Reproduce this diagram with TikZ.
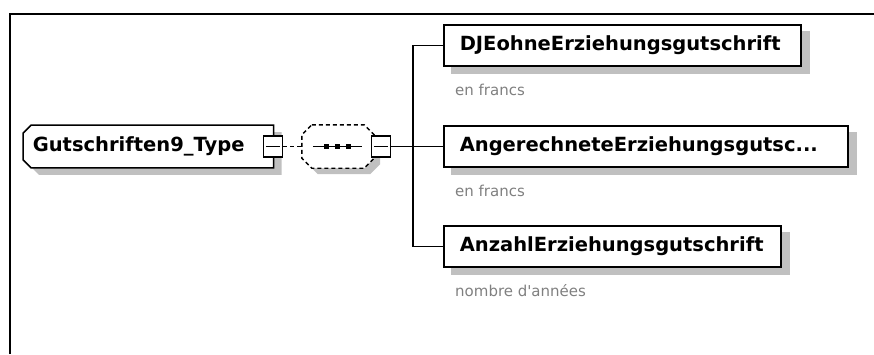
\documentclass[tikz,border=0pt]{standalone}
\usepackage{fontspec}
\setmainfont{DejaVu Sans}
\definecolor{shadowgray}{RGB}{192,192,192}
\definecolor{labelgray}{RGB}{128,128,128}
\pgfdeclarelayer{bg}
\pgfsetlayers{bg,main}
\begin{document}
\begin{tikzpicture}[x=1pt,y=-1pt,
  elem/.style={draw=black, line width=1.6pt, fill=white, minimum height=41pt, inner xsep=16pt, inner ysep=0pt, anchor=west, font=\bfseries\fontsize{19.5}{22}\selectfont, align=left},
  note/.style={anchor=base west, inner sep=0pt, text=labelgray, font=\fontsize{15}{18}\selectfont},
  minusbox/.style={draw=black, line width=1.5pt, fill=white, minimum width=19pt, minimum height=21pt, inner sep=0pt},
  conn/.style={line width=1.4pt, black},
  shadowfill/.style={fill=shadowgray, draw=none},
  outline/.style={draw=black, line width=1.5pt, fill=white},
  seqdash/.style={draw=black, line width=1.4pt, fill=white, dash pattern=on 4pt off 3pt},
  dot/.style={fill=black, minimum size=5pt, inner sep=0pt}
]
\useasboundingbox (0,0) rectangle (874,354);
\draw[line width=1.8pt] (10,354) -- (10,14) -- (874,14);

% root element
\node[elem, draw=none, fill=none, inner xsep=9pt, text width=231pt] (root) at (23,146.5) {Gutschriften9\_Type};
\begin{pgfonlayer}{bg}
  \fill[shadowfill] ([shift={(8pt,-7pt)},xshift=8pt]root.north west) -- ([shift={(8pt,-7pt)}]root.north east) -- ([shift={(8pt,-7pt)}]root.south east) -- ([shift={(8pt,-7pt)},xshift=8pt]root.south west) -- ([shift={(8pt,-7pt)},yshift=8pt]root.south west) -- ([shift={(8pt,-7pt)},yshift=-8pt]root.north west) -- cycle;
  \path[outline] ([xshift=8pt]root.north west) -- (root.north east) -- (root.south east) -- ([xshift=8pt]root.south west) -- ([yshift=8pt]root.south west) -- ([yshift=-8pt]root.north west) -- cycle;
\end{pgfonlayer}
\node[minusbox] (rm) at (273,146.5) {};
\draw[line width=1.3pt] ([xshift=3pt]rm.west) -- ([xshift=-3pt]rm.east);

% sequence compositor
\node[draw=none, minimum width=72pt, minimum height=43pt, inner sep=0pt] (seq) at (338,146.5) {};
\begin{pgfonlayer}{bg}
  \fill[shadowfill] ([shift={(6pt,-6pt)},xshift=10pt]seq.north west) -- ([shift={(6pt,-6pt)},xshift=-10pt]seq.north east) -- ([shift={(6pt,-6pt)},yshift=-10pt]seq.north east) -- ([shift={(6pt,-6pt)},yshift=10pt]seq.south east) -- ([shift={(6pt,-6pt)},xshift=-10pt]seq.south east) -- ([shift={(6pt,-6pt)},xshift=10pt]seq.south west) -- ([shift={(6pt,-6pt)},yshift=10pt]seq.south west) -- ([shift={(6pt,-6pt)},yshift=-10pt]seq.north west) -- cycle;
  \path[seqdash] ([xshift=10pt]seq.north west) -- ([xshift=-10pt]seq.north east) -- ([yshift=-10pt]seq.north east) -- ([yshift=10pt]seq.south east) -- ([xshift=-10pt]seq.south east) -- ([xshift=10pt]seq.south west) -- ([yshift=10pt]seq.south west) -- ([yshift=-10pt]seq.north west) -- cycle;
\end{pgfonlayer}
\draw[conn] ([xshift=11pt]seq.west) -- ([xshift=-12pt]seq.east);
\node[dot] (s1) at (326,146.5) {};
\node[dot] (s2) at (337,146.5) {};
\node[dot] (s3) at (348,146.5) {};
\node[minusbox] (sm) at (381,146.5) {};
\draw[line width=1.3pt] ([xshift=3pt]sm.west) -- ([xshift=-3pt]sm.east);

% children
\node[elem, minimum width=357pt, text width=325pt] (c1) at (443,45.5) {DJEohneErziehungsgutschrift};
\node[elem, minimum width=404pt, text width=372pt] (c2) at (443,146.5) {AngerechneteErziehungsgutsc...};
\node[elem, minimum width=337pt, text width=305pt] (c3) at (443,246.5) {AnzahlErziehungsgutschrift};
\begin{pgfonlayer}{bg}
  \fill[shadowfill] ([shift={(8pt,-7pt)}]c1.north west) rectangle ([shift={(8pt,-7pt)}]c1.south east);
  \fill[shadowfill] ([shift={(8pt,-7pt)}]c2.north west) rectangle ([shift={(8pt,-7pt)}]c2.south east);
  \fill[shadowfill] ([shift={(8pt,-7pt)}]c3.north west) rectangle ([shift={(8pt,-7pt)}]c3.south east);
\end{pgfonlayer}
\node[note] (n1) at (455,95) {en francs};
\node[note] (n2) at (455,196) {en francs};
\node[note] (n3) at (455,296) {nombre d\textquotesingle ann\'ees};

% connectors
\coordinate (jn) at (413,146.5);
\draw[conn, dash pattern=on 4pt off 3pt] (rm.east) -- (seq.west);
\draw[conn] (sm.east) -- (jn);
\draw[conn] (jn) -- (c2.west);
\draw[conn] (c1.west) -| (jn);
\draw[conn] (c3.west) -| (jn);
\end{tikzpicture}
\end{document}
